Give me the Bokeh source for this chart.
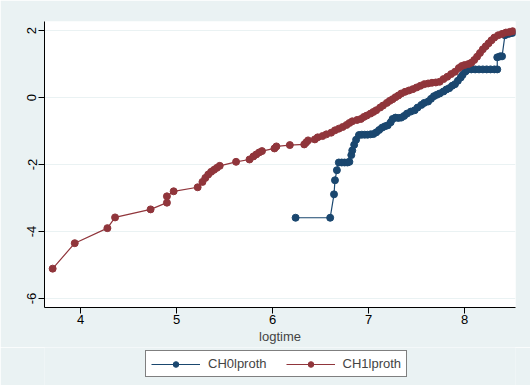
from bokeh.plotting import figure
from bokeh.layouts import column
from bokeh.models import Range1d, Legend, LegendItem, PrintfTickFormatter
from bokeh.embed import file_html
from bokeh.resources import INLINE

# CH0lproth (navy)
ch0_x = [6.24, 6.60, 6.64, 6.65, 6.67, 6.69, 6.72, 6.75, 6.78, 6.80, 6.82, 6.83, 6.85, 6.87,
         6.90, 6.93, 6.96, 6.99, 7.02, 7.05, 7.08, 7.11, 7.14, 7.17, 7.20, 7.23, 7.25, 7.28,
         7.31, 7.34, 7.37, 7.40, 7.44, 7.48, 7.51, 7.55, 7.58, 7.62, 7.65, 7.68, 7.71, 7.74,
         7.78, 7.81, 7.84, 7.87, 7.90, 7.93, 7.96, 7.98, 8.01, 8.03, 8.07, 8.11, 8.15, 8.19,
         8.23, 8.27, 8.31, 8.34, 8.34, 8.37, 8.39, 8.42, 8.45, 8.47, 8.50]
ch0_y = [-3.59, -3.59, -2.89, -2.47, -2.17, -1.94, -1.94, -1.94, -1.94, -1.92, -1.72, -1.58,
         -1.41, -1.26, -1.12, -1.11, -1.11, -1.11, -1.10, -1.09, -1.04, -0.97, -0.90, -0.86,
         -0.83, -0.74, -0.64, -0.60, -0.61, -0.60, -0.55, -0.48, -0.42, -0.38, -0.30, -0.22,
         -0.16, -0.12, -0.04, 0.04, 0.08, 0.12, 0.18, 0.24, 0.28, 0.35, 0.40, 0.50, 0.60, 0.68,
         0.78, 0.84, 0.84, 0.84, 0.84, 0.84, 0.84, 0.84, 0.84, 0.84, 1.20, 1.23, 1.23, 1.86,
         1.90, 1.91, 1.93]

# CH1lproth (maroon)
ch1_x = [3.71, 3.94, 4.28, 4.36, 4.73, 4.90, 4.90, 4.97, 5.22, 5.27, 5.30, 5.33, 5.36, 5.39,
         5.42, 5.45, 5.62, 5.76, 5.80, 5.83, 5.86, 5.89, 6.02, 6.04, 6.18, 6.33, 6.35, 6.37,
         6.44, 6.47, 6.52, 6.56, 6.61, 6.65, 6.69, 6.73, 6.77, 6.80, 6.83, 6.88, 6.92, 6.95,
         6.98, 7.02, 7.05, 7.08, 7.12, 7.15, 7.19, 7.22, 7.25, 7.28, 7.31, 7.34, 7.38, 7.42,
         7.46, 7.50, 7.54, 7.58, 7.62, 7.66, 7.70, 7.74, 7.78, 7.82, 7.86, 7.90, 7.94, 7.97,
         8.00, 8.04, 8.07, 8.10, 8.13, 8.16, 8.19, 8.22, 8.25, 8.28, 8.31, 8.35, 8.39, 8.43,
         8.47, 8.50]
ch1_y = [-5.11, -4.35, -3.90, -3.58, -3.34, -3.14, -2.95, -2.80, -2.68, -2.52, -2.40, -2.30,
         -2.22, -2.16, -2.10, -2.04, -1.92, -1.85, -1.76, -1.70, -1.64, -1.60, -1.52, -1.46,
         -1.42, -1.40, -1.34, -1.28, -1.25, -1.19, -1.15, -1.10, -1.05, -0.98, -0.93, -0.88,
         -0.82, -0.76, -0.71, -0.67, -0.64, -0.58, -0.54, -0.48, -0.43, -0.38, -0.30, -0.24,
         -0.16, -0.10, -0.05, 0.01, 0.06, 0.12, 0.17, 0.21, 0.25, 0.30, 0.35, 0.40, 0.42, 0.44,
         0.45, 0.47, 0.55, 0.62, 0.70, 0.77, 0.88, 0.94, 0.97, 1.00, 1.04, 1.12, 1.22, 1.33,
         1.44, 1.53, 1.62, 1.71, 1.79, 1.86, 1.90, 1.94, 1.96, 1.98]

x_ticks = [4, 5, 6, 7, 8]
y_ticks = [-6, -4, -2, 0, 2]
series_labels = ["CH0lproth", "CH1lproth"]

NAVY = "#1A476F"
MAROON = "#90353B"
PANEL = "#EAF2F3"
FONT = "Liberation Sans"

p = figure(width=530, height=347, output_backend="svg", toolbar_location=None,
           x_range=Range1d(3.625, 8.53), y_range=Range1d(-6.27, 2.27),
           min_border_left=44, min_border_right=15, min_border_top=21,
           min_border_bottom=40)
p.background_fill_color = "white"
p.border_fill_color = PANEL
p.outline_line_color = None

p.xgrid.visible = False
p.ygrid.grid_line_color = PANEL
p.ygrid.grid_line_width = 1

for ax in (p.xaxis, p.yaxis):
    ax.axis_line_color = "black"
    ax.major_tick_line_color = "black"
    ax.minor_tick_line_color = None
    ax.major_tick_out = 6
    ax.major_tick_in = 0
    ax.major_label_text_font = FONT
    ax.major_label_text_font_size = "13px"
    ax.major_label_text_color = "black"
    ax.formatter = PrintfTickFormatter(format="%d")

p.xaxis.ticker = x_ticks
p.yaxis.ticker = y_ticks
p.yaxis.major_label_orientation = "vertical"
p.xaxis.major_label_standoff = 1
p.yaxis.major_label_standoff = 2
p.xaxis.axis_label = "logtime"
p.xaxis.axis_label_text_font = FONT
p.xaxis.axis_label_text_font_size = "13px"
p.xaxis.axis_label_text_font_style = "normal"
p.xaxis.axis_label_standoff = 2

p.line(ch0_x, ch0_y, line_color=NAVY, line_width=1.2)
p.scatter(ch0_x, ch0_y, size=7, fill_color=NAVY, line_color=NAVY)
p.line(ch1_x, ch1_y, line_color=MAROON, line_width=1.2)
p.scatter(ch1_x, ch1_y, size=7, fill_color=MAROON, line_color=MAROON)

# legend strip below the main plot (series renderers kept out of its view)
q = figure(width=530, height=38, output_backend="svg", toolbar_location=None,
           x_range=Range1d(100, 101), y_range=Range1d(100, 101),
           min_border=0, x_axis_location=None, y_axis_location=None)
q.background_fill_color = PANEL
q.border_fill_color = PANEL
q.outline_line_color = None
q.grid.visible = False
ql0 = q.line(ch0_x, ch0_y, line_color=NAVY, line_width=1.2)
qs0 = q.scatter(ch0_x, ch0_y, size=7, fill_color=NAVY, line_color=NAVY)
ql1 = q.line(ch1_x, ch1_y, line_color=MAROON, line_width=1.2)
qs1 = q.scatter(ch1_x, ch1_y, size=7, fill_color=MAROON, line_color=MAROON)

legend = Legend(items=[LegendItem(label=series_labels[0], renderers=[ql0, qs0]),
                       LegendItem(label=series_labels[1], renderers=[ql1, qs1])],
                orientation="horizontal", location=(101, 8))
legend.glyph_width = 49
legend.glyph_height = 14
legend.label_standoff = 8
legend.spacing = 19
legend.padding = 5
legend.margin = 0
legend.border_line_color = "black"
legend.border_line_width = 1
legend.background_fill_color = "white"
legend.background_fill_alpha = 1
legend.label_text_font = FONT
legend.label_text_font_size = "13px"
q.add_layout(legend, "center")

layout = column(p, q, spacing=0)
open("out.html", "w").write(file_html(layout, INLINE))
